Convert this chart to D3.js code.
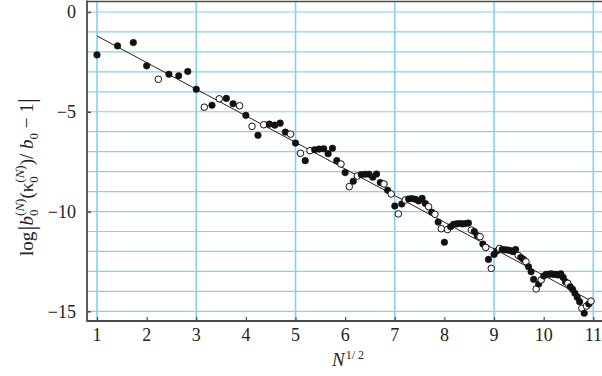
<!DOCTYPE html>
<html><head><meta charset="utf-8">
<script src="https://cdn.jsdelivr.net/npm/d3@7"></script>
<style>html,body{margin:0;padding:0;background:#fff;}svg{display:block;}</style>
</head><body>
<svg id="chart" width="602" height="376"></svg>
<script>
// sqrt(N) for N = 1..120
const xValues = [1.000,1.414,1.732,2.000,2.236,2.449,2.646,2.828,3.000,3.162,
3.317,3.464,3.606,3.742,3.873,4.000,4.123,4.243,4.359,4.472,
4.583,4.690,4.796,4.899,5.000,5.099,5.196,5.292,5.385,5.477,
5.568,5.657,5.745,5.831,5.916,6.000,6.083,6.164,6.245,6.325,
6.403,6.481,6.557,6.633,6.708,6.782,6.856,6.928,7.000,7.071,
7.141,7.211,7.280,7.348,7.416,7.483,7.550,7.616,7.681,7.746,
7.810,7.874,7.937,8.000,8.062,8.124,8.185,8.246,8.307,8.367,
8.426,8.485,8.544,8.602,8.660,8.718,8.775,8.832,8.888,8.944,
9.000,9.055,9.110,9.165,9.220,9.274,9.327,9.381,9.434,9.487,
9.539,9.592,9.644,9.695,9.747,9.798,9.849,9.899,9.950,10.000,
10.050,10.100,10.149,10.198,10.247,10.296,10.344,10.392,10.440,10.488,
10.536,10.583,10.630,10.677,10.724,10.770,10.817,10.863,10.909,10.954];
const yValues = [-2.15,-1.7,-1.53,-2.7,-3.37,-3.12,-3.2,-2.98,-3.87,-4.77,
-4.67,-4.35,-4.33,-4.6,-4.7,-5.18,-5.73,-6.18,-5.65,-5.62,
-5.67,-5.57,-6.02,-6.12,-6.57,-7.08,-7.45,-6.95,-6.9,-6.87,
-6.85,-7.1,-6.83,-7.45,-7.62,-8.05,-8.75,-8.48,-8.22,-8.15,
-8.13,-8.13,-8.28,-8.12,-8.55,-8.62,-8.93,-9.12,-9.72,-10.12,
-9.62,-9.42,-9.37,-9.35,-9.39,-9.47,-9.34,-9.6,-9.76,-10.04,
-10.14,-10.53,-10.86,-11.54,-10.9,-10.76,-10.64,-10.62,-10.6,-10.62,
-10.6,-10.58,-10.93,-11.0,-11.2,-11.26,-11.63,-11.8,-12.4,-12.85,
-12.15,-11.98,-11.85,-11.9,-11.92,-11.93,-11.95,-12.01,-11.9,-12.2,
-12.3,-12.4,-12.52,-12.77,-13.02,-13.4,-13.88,-13.63,-13.43,-13.23,
-13.15,-13.15,-13.12,-13.15,-13.15,-13.18,-13.12,-13.3,-13.52,-13.6,
-13.77,-13.9,-14.1,-14.3,-14.52,-14.85,-15.1,-14.74,-14.64,-14.49];
// 1 = open circle, 0 = filled circle
const openFlags = [0,0,0,0,1,0,0,0,0,1,
0,1,0,0,1,0,1,0,1,0,
0,0,0,1,0,1,0,1,0,0,
0,0,0,0,1,0,1,0,1,0,
0,0,0,0,0,1,0,1,0,1,
0,1,0,0,0,0,0,0,1,0,
1,0,1,0,1,0,0,0,0,0,
0,0,1,0,0,1,0,1,0,1,
0,0,1,0,0,0,0,0,0,1,
0,0,1,0,0,0,1,0,1,0,
0,0,0,0,0,0,0,0,0,1,
0,0,0,0,0,1,0,1,0,1];
const fitX = [1, 10.95];
const fitY = [-1.2, -14.47];
const xTicks = [1,2,3,4,5,6,7,8,9,10,11];
const yTicks = [0,-5,-10,-15];
const xGridValues = [1,3,5,7,9,11];
const yGridValues = [0,-1,-2,-3,-4,-5,-6,-7,-8,-9,-10,-11,-12,-13,-14,-15];

const svg = d3.select('#chart');
const x = d3.scaleLinear().domain([1, 11]).range([97, 593.3]);
const y = d3.scaleLinear().domain([0, -15]).range([12, 311.3]);
const frameLeft = 87, frameRight = 602, frameTop = 1.5, frameBottom = 321;
const gridColor = '#86d0f2';
const axisColor = '#4a4a4a';
const font = "'Liberation Serif', 'Times New Roman', serif";

// grid
svg.append('g').selectAll('line').data(yGridValues).join('line')
  .attr('x1', frameLeft).attr('x2', frameRight)
  .attr('y1', d => y(d)).attr('y2', d => y(d))
  .attr('stroke', gridColor).attr('stroke-width', 1.2);
svg.append('g').selectAll('line').data(xGridValues).join('line')
  .attr('x1', d => x(d)).attr('x2', d => x(d))
  .attr('y1', frameTop).attr('y2', frameBottom)
  .attr('stroke', gridColor).attr('stroke-width', 1.6);

// fit line
svg.append('line')
  .attr('x1', x(fitX[0])).attr('y1', y(fitY[0]))
  .attr('x2', x(fitX[1])).attr('y2', y(fitY[1]))
  .attr('stroke', '#222').attr('stroke-width', 1);

// points
const pts = xValues.map((v, i) => ({x: v, y: yValues[i], open: openFlags[i]}));
svg.append('g').selectAll('circle').data(pts).join('circle')
  .attr('cx', d => x(d.x)).attr('cy', d => y(d.y)).attr('r', 3.3)
  .attr('fill', d => d.open ? '#fff' : '#111')
  .attr('stroke', '#111').attr('stroke-width', d => d.open ? 1 : 0.5);

// frame
svg.append('line').attr('x1', frameLeft).attr('x2', frameLeft).attr('y1', frameTop - 1).attr('y2', frameBottom + 0.8)
  .attr('stroke', axisColor).attr('stroke-width', 1.8);
svg.append('line').attr('x1', frameLeft).attr('x2', frameRight).attr('y1', frameBottom).attr('y2', frameBottom)
  .attr('stroke', axisColor).attr('stroke-width', 1.8);
svg.append('line').attr('x1', frameLeft).attr('x2', frameRight).attr('y1', frameTop).attr('y2', frameTop)
  .attr('stroke', axisColor).attr('stroke-width', 1.5);

// axes (ticks inward)
const yAxis = d3.axisRight(y).tickValues(yTicks).tickSize(4).tickFormat('');
svg.append('g').attr('transform', `translate(${frameLeft},0)`).call(yAxis)
  .call(g => g.select('.domain').remove())
  .call(g => g.selectAll('line').attr('stroke', axisColor).attr('stroke-width', 1.5));
const xAxis = d3.axisTop(x).tickValues(xTicks).tickSize(4).tickFormat('');
svg.append('g').attr('transform', `translate(0,${frameBottom})`).call(xAxis)
  .call(g => g.select('.domain').remove())
  .call(g => g.selectAll('line').attr('stroke', axisColor).attr('stroke-width', 1.2));

// tick labels
svg.append('g').selectAll('text').data(yTicks).join('text')
  .attr('x', 76).attr('y', d => y(d)).attr('dy', '0.35em')
  .attr('text-anchor', 'end').attr('font-family', font).attr('font-size', 18).attr('fill', '#222')
  .text(d => d < 0 ? '\u2212' + Math.abs(d) : d);
svg.append('g').selectAll('text').data(xTicks).join('text')
  .attr('x', d => x(d)).attr('y', 341)
  .attr('text-anchor', 'middle').attr('font-family', font).attr('font-size', 18).attr('fill', '#222')
  .text(d => d);

// x title
const xt = svg.append('text').attr('x', 348).attr('y', 366).attr('text-anchor', 'middle')
  .attr('font-family', font).attr('font-size', 19).attr('fill', '#222');
xt.append('tspan').attr('font-style', 'italic').text('N');
xt.append('tspan').attr('font-size', 12).attr('dy', -7).attr('dx', 1).text('1/ 2');

// y title
const yt = svg.append('text').attr('transform', 'translate(33,177) rotate(-90)')
  .attr('text-anchor', 'middle').attr('font-family', font).attr('font-size', 19).attr('fill', '#222');
yt.append('tspan').text('log');
yt.append('tspan').attr('font-size', 26).attr('dy', 2).attr('dx', 1).text('|');
yt.append('tspan').attr('font-style', 'italic').attr('dy', -2).text('b');
yt.append('tspan').attr('font-size', 13).attr('dy', 5).text('0');
yt.append('tspan').attr('font-size', 13).attr('dy', -14).attr('dx', -6.5).text('(');
yt.append('tspan').attr('font-size', 13).attr('font-style', 'italic').text('N');
yt.append('tspan').attr('font-size', 13).text(')');
yt.append('tspan').attr('dy', 9).text('(\u03BA');
yt.append('tspan').attr('font-size', 13).attr('dy', 5).text('0');
yt.append('tspan').attr('font-size', 13).attr('dy', -14).attr('dx', -6.5).text('(');
yt.append('tspan').attr('font-size', 13).attr('font-style', 'italic').text('N');
yt.append('tspan').attr('font-size', 13).text(')');
yt.append('tspan').attr('dy', 9).text(')/ ');
yt.append('tspan').attr('font-style', 'italic').text('b');
yt.append('tspan').attr('font-size', 13).attr('dy', 5).text('0');
yt.append('tspan').attr('dy', -5).text(' \u2212 1');
yt.append('tspan').attr('font-size', 26).attr('dy', 2).text('|');
</script>
</body></html>
